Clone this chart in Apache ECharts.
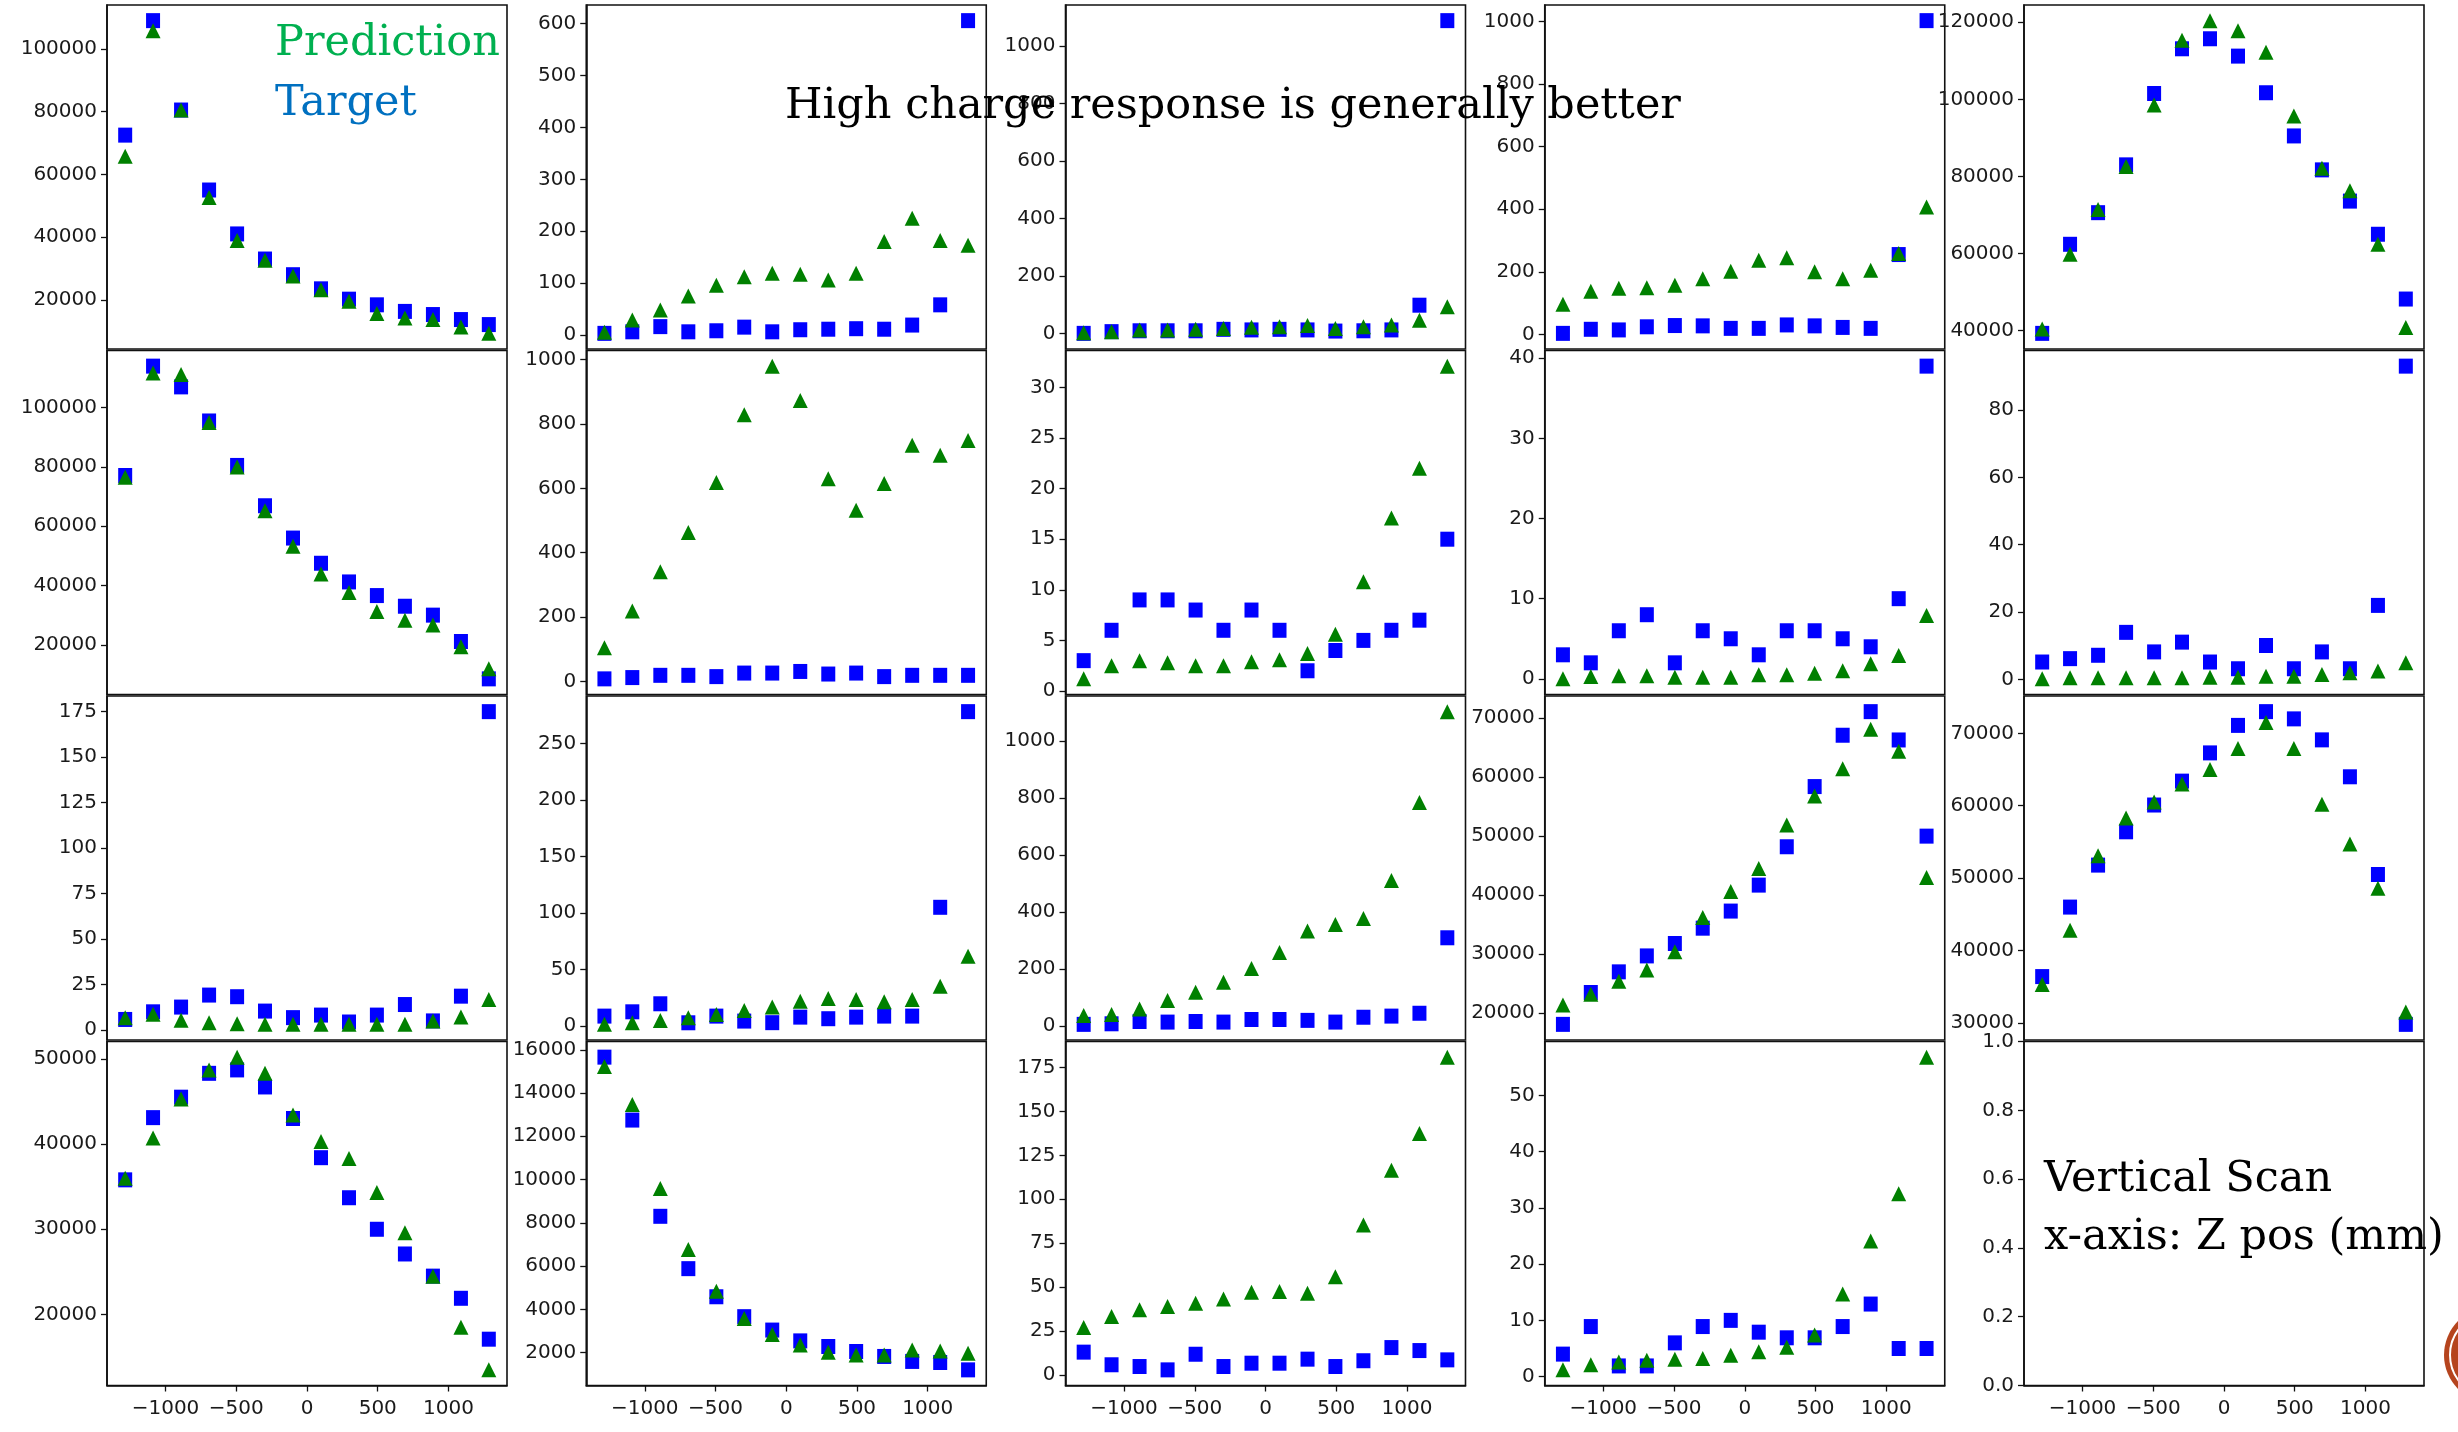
<!DOCTYPE html>
<html>
<head>
<meta charset="utf-8">
<script src="https://cdn.jsdelivr.net/npm/echarts@6/dist/echarts.min.js"></script>
<style>
html,body{margin:0;padding:0;background:#fff;}
#chart{width:2458px;height:1432px;}
</style>
</head>
<body>
<div id="chart"></div>
<script>
// ---- data ----
const xPositions = [-1285, -1088, -890, -692, -494, -297, -99, 99, 297, 494, 692, 890, 1088, 1285];
const xTicks = [-1000, -500, 0, 500, 1000];

const target_r1c1 = [72500, 109000, 80500, 55000, 41000, 33000, 28000, 23500, 20200, 18400, 16300, 15300, 13700, 12100];
const pred_r1c1   = [65800, 105800, 80500, 52600, 38900, 32600, 27600, 23200, 19500, 15600, 14200, 13700, 11300, 9300];
const yTicks_r1c1 = [20000, 40000, 60000, 80000, 100000];

const target_r1c2 = [3, 6, 16, 6, 8, 15, 6, 10, 11, 12, 11, 19, 58, 606];
const pred_r1c2   = [5, 29, 48, 75, 96, 112, 119, 117, 106, 119, 180, 225, 182, 173];
const yTicks_r1c2 = [0, 100, 200, 300, 400, 500, 600];

const target_r1c3 = [0, 6, 9, 9, 9, 14, 12, 14, 12, 8, 9, 12, 98, 1088];
const pred_r1c3   = [2, 6, 12, 12, 14, 17, 21, 23, 27, 17, 23, 29, 46, 93];
const yTicks_r1c3 = [0, 200, 400, 600, 800, 1000];

const target_r1c4 = [3, 16, 14, 24, 28, 27, 19, 19, 30, 27, 22, 19, 255, 1003];
const pred_r1c4   = [96, 138, 147, 149, 157, 178, 202, 237, 245, 200, 178, 205, 258, 407];
const yTicks_r1c4 = [0, 200, 400, 600, 800, 1000];

const target_r1c5 = [39300, 62400, 70600, 83000, 101500, 113100, 115700, 111200, 101700, 90500, 81700, 73600, 65000, 48200];
const pred_r1c5   = [40400, 59800, 71400, 82600, 98500, 115300, 120400, 117800, 112200, 95700, 82100, 76300, 62400, 40800];
const yTicks_r1c5 = [40000, 60000, 80000, 100000, 120000];

const target_r2c1 = [77100, 114000, 107000, 95500, 80500, 66900, 56000, 47500, 41200, 36600, 33000, 30000, 21100, 8500];
const pred_r2c1   = [76500, 111700, 111200, 95000, 80000, 65200, 53200, 43900, 37600, 31200, 28300, 26700, 19300, 11900];
const yTicks_r2c1 = [20000, 40000, 60000, 80000, 100000];

const target_r2c2 = [8, 12, 19, 19, 15, 26, 26, 31, 23, 26, 15, 19, 19, 19];
const pred_r2c2   = [105, 219, 341, 463, 618, 829, 980, 873, 630, 532, 615, 734, 703, 749];
const yTicks_r2c2 = [0, 200, 400, 600, 800, 1000];

const target_r2c3 = [3, 6, 9, 9, 8, 6, 8, 6, 2, 4, 5, 6, 7, 15];
const pred_r2c3   = [1.2, 2.5, 3, 2.8, 2.5, 2.5, 2.9, 3.1, 3.7, 5.6, 10.8, 17.1, 22, 32.1];
const yTicks_r2c3 = [0, 5, 10, 15, 20, 25, 30];

const target_r2c4 = [3, 2, 6, 8, 2, 6, 5, 3, 6, 6, 5, 4, 10, 39];
const pred_r2c4   = [0, 0.3, 0.4, 0.4, 0.2, 0.2, 0.2, 0.5, 0.5, 0.7, 1.0, 1.9, 2.9, 7.9];
const yTicks_r2c4 = [0, 10, 20, 30, 40];

const target_r2c5 = [5.2, 6.2, 7.2, 14, 8.2, 11.1, 5.2, 3.2, 10.1, 3.2, 8.2, 3.2, 22, 93];
const pred_r2c5   = [0.2, 0.5, 0.5, 0.5, 0.5, 0.5, 0.7, 0.7, 1.0, 1.0, 1.5, 2, 2.5, 5];
const yTicks_r2c5 = [0, 20, 40, 60, 80];

const target_r3c1 = [5.8, 10, 12.6, 19.2, 18.3, 10.4, 6.8, 8.2, 4.4, 8.2, 14, 5, 18.6, 175];
const pred_r3c1   = [6.8, 8.6, 5.3, 4, 3.5, 3.1, 3.1, 3.1, 3.1, 3.1, 3.1, 5, 7.1, 16.8];
const yTicks_r3c1 = [0, 25, 50, 75, 100, 125, 150, 175];

const target_r3c2 = [8.8, 12.6, 19.7, 2.9, 8.8, 4.4, 3, 7.9, 6.5, 7.9, 8.8, 8.8, 105, 278];
const pred_r3c2   = [1.5, 2.9, 5, 7.4, 10.3, 13.8, 16.8, 22, 24.4, 23.5, 21.5, 23.5, 35.3, 61.8];
const yTicks_r3c2 = [0, 50, 100, 150, 200, 250];

const target_r3c3 = [6, 8, 16, 14, 16, 14, 23, 23, 20, 14, 31, 35, 45, 310];
const pred_r3c3   = [37, 41, 60, 90, 119, 154, 202, 258, 334, 357, 378, 511, 785, 1104];
const yTicks_r3c3 = [0, 200, 400, 600, 800, 1000];

const target_r3c4 = [18100, 23500, 27000, 29700, 31800, 34400, 37300, 41700, 48200, 58400, 67100, 71100, 66300, 50000];
const pred_r3c4   = [21400, 23200, 25400, 27300, 30400, 36200, 40600, 44500, 51900, 56800, 61400, 68100, 64400, 43000];
const yTicks_r3c4 = [20000, 30000, 40000, 50000, 60000, 70000];

const target_r3c5 = [36400, 46000, 51800, 56400, 60100, 63400, 67300, 71100, 73000, 72000, 69100, 64000, 50500, 29800];
const pred_r3c5   = [35300, 42800, 53100, 58300, 60500, 63000, 65000, 67900, 71500, 67900, 60200, 54700, 48600, 31500];
const yTicks_r3c5 = [30000, 40000, 50000, 60000, 70000];

const target_r4c1 = [35800, 43100, 45500, 48300, 48700, 46700, 43000, 38400, 33700, 30000, 27100, 24500, 21900, 17100];
const pred_r4c1   = [36000, 40700, 45300, 48700, 50200, 48300, 43400, 40300, 38300, 34300, 29600, 24500, 18500, 13500];
const yTicks_r4c1 = [20000, 30000, 40000, 50000];

const target_r4c2 = [15660, 12750, 8300, 5880, 4580, 3660, 3040, 2540, 2280, 2050, 1820, 1590, 1540, 1200];
const pred_r4c2   = [15230, 13470, 9590, 6770, 4840, 3580, 2840, 2350, 2020, 1890, 1890, 2120, 2070, 1970];
const yTicks_r4c2 = [2000, 4000, 6000, 8000, 10000, 12000, 14000, 16000];

const target_r4c3 = [12.9, 5.7, 4.7, 2.8, 11.7, 4.7, 6.6, 6.6, 8.9, 4.7, 8, 15.5, 13.8, 8.5];
const pred_r4c3   = [26.9, 33.2, 37, 38.9, 40.8, 43.2, 47, 47.4, 46.5, 55.9, 85.3, 116.6, 137.5, 181];
const yTicks_r4c3 = [0, 25, 50, 75, 100, 125, 150, 175];

const target_r4c4 = [4, 8.9, 1.9, 1.9, 6, 8.9, 10, 7.9, 6.9, 6.9, 8.9, 12.9, 5, 5];
const pred_r4c4   = [1.2, 2.1, 2.6, 2.9, 3.1, 3.2, 3.8, 4.4, 5.2, 7.4, 14.7, 24.1, 32.5, 56.8];
const yTicks_r4c4 = [0, 10, 20, 30, 40, 50];

const yTicks_r4c5 = [0.0, 0.2, 0.4, 0.6, 0.8, 1.0];

const panels = [
  [target_r1c1, pred_r1c1, yTicks_r1c1], [target_r1c2, pred_r1c2, yTicks_r1c2], [target_r1c3, pred_r1c3, yTicks_r1c3], [target_r1c4, pred_r1c4, yTicks_r1c4], [target_r1c5, pred_r1c5, yTicks_r1c5],
  [target_r2c1, pred_r2c1, yTicks_r2c1], [target_r2c2, pred_r2c2, yTicks_r2c2], [target_r2c3, pred_r2c3, yTicks_r2c3], [target_r2c4, pred_r2c4, yTicks_r2c4], [target_r2c5, pred_r2c5, yTicks_r2c5],
  [target_r3c1, pred_r3c1, yTicks_r3c1], [target_r3c2, pred_r3c2, yTicks_r3c2], [target_r3c3, pred_r3c3, yTicks_r3c3], [target_r3c4, pred_r3c4, yTicks_r3c4], [target_r3c5, pred_r3c5, yTicks_r3c5],
  [target_r4c1, pred_r4c1, yTicks_r4c1], [target_r4c2, pred_r4c2, yTicks_r4c2], [target_r4c3, pred_r4c3, yTicks_r4c3], [target_r4c4, pred_r4c4, yTicks_r4c4], [null, null, yTicks_r4c5]
];

// ---- layout ----
const COL_LEFT = 107, COL_STEP = 479.25, PLOT_W = 400;
const ROW_TOP = 5, ROW_STEP = 345.5, PLOT_H = 344;
const LABEL_FONT = 'DejaVu Sans';

function pad(lo, hi) { const d = (hi - lo) * 0.05; return [lo - d, hi + d]; }
const xr = pad(Math.min(...xPositions), Math.max(...xPositions));
const fmtMinus = v => (v < 0 ? '\u2212' + Math.abs(v) : String(v));

const grids = [], xAxes = [], yAxes = [], series = [];
panels.forEach((p, i) => {
  const r = Math.floor(i / 5), c = i % 5;
  grids.push({
    left: COL_LEFT + c * COL_STEP, top: ROW_TOP + r * ROW_STEP, width: PLOT_W, height: PLOT_H,
    show: true, borderColor: '#111', borderWidth: 1.6, backgroundColor: 'transparent', containLabel: false
  });
  const bottom = r === 3;
  xAxes.push({
    type: 'value', gridIndex: i, min: xr[0], max: xr[1],
    splitLine: { show: false },
    axisLine: { show: bottom, onZero: false, lineStyle: { color: '#111', width: 1.6 } },
    axisTick: { show: bottom, length: 6, customValues: xTicks, lineStyle: { color: '#111', width: 1.3 } },
    axisLabel: { show: bottom, customValues: xTicks, formatter: fmtMinus, fontFamily: LABEL_FONT, fontSize: 20, color: '#1a1a1a', margin: 13 }
  });
  let yr;
  if (p[0]) {
    const all = p[0].concat(p[1]);
    yr = pad(Math.min(...all), Math.max(...all));
  } else {
    yr = [0, 1];
  }
  const isEmpty = !p[0];
  yAxes.push({
    type: 'value', gridIndex: i, min: yr[0], max: yr[1],
    splitLine: { show: false },
    axisLine: { show: true, onZero: false, lineStyle: { color: '#111', width: 1.6 } },
    axisTick: { show: true, length: 6, customValues: p[2], lineStyle: { color: '#111', width: 1.3 } },
    axisLabel: { customValues: p[2], formatter: v => isEmpty ? v.toFixed(1) : String(v), fontFamily: LABEL_FONT, fontSize: 20, color: '#1a1a1a', margin: 10 }
  });
  if (p[0]) {
    series.push({
      type: 'scatter', xAxisIndex: i, yAxisIndex: i, name: 'Target',
      symbol: 'rect', symbolSize: [14, 15], itemStyle: { color: '#0000ff', opacity: 1 },
      data: xPositions.map((x, k) => [x, p[0][k]]), z: 2
    });
    series.push({
      type: 'scatter', xAxisIndex: i, yAxisIndex: i, name: 'Prediction',
      symbol: 'triangle', symbolSize: [15, 15], itemStyle: { color: '#008000', opacity: 1 },
      data: xPositions.map((x, k) => [x, p[1][k]]), z: 3
    });
  }
});

const SERIF = '"DejaVu Serif", "Liberation Serif", serif';
const option = {
  animation: false,
  backgroundColor: '#ffffff',
  grid: grids, xAxis: xAxes, yAxis: yAxes, series: series,
  graphic: [
    { type: 'text', z: 100, style: { text: 'Prediction', x: 275, y: 44, font: '43px ' + SERIF, fill: '#00b050', verticalAlign: 'middle', align: 'left' } },
    { type: 'text', z: 100, style: { text: 'Target', x: 275, y: 104, font: '43px ' + SERIF, fill: '#0070c0', verticalAlign: 'middle', align: 'left' } },
    { type: 'text', z: 100, style: { text: 'High charge response is generally better', x: 785, y: 107, font: '43px ' + SERIF, fill: '#000000', verticalAlign: 'middle', align: 'left' } },
    { type: 'text', z: 100, style: { text: 'Vertical Scan', x: 2044, y: 1180, font: '43px ' + SERIF, fill: '#000000', verticalAlign: 'middle', align: 'left' } },
    { type: 'text', z: 100, style: { text: 'x-axis: Z pos (mm)', x: 2044, y: 1238, font: '43px ' + SERIF, fill: '#000000', verticalAlign: 'middle', align: 'left' } },
    { type: 'circle', z: 90, shape: { cx: 2492, cy: 1355, r: 48 }, style: { fill: '#b5441e' } },
    { type: 'circle', z: 91, shape: { cx: 2492, cy: 1355, r: 42 }, style: { fill: 'none', stroke: '#ffffff', lineWidth: 2 } }
  ]
};
const chart = echarts.init(document.getElementById('chart'), null, { renderer: 'canvas' });
chart.setOption(option);
</script>
</body>
</html>
